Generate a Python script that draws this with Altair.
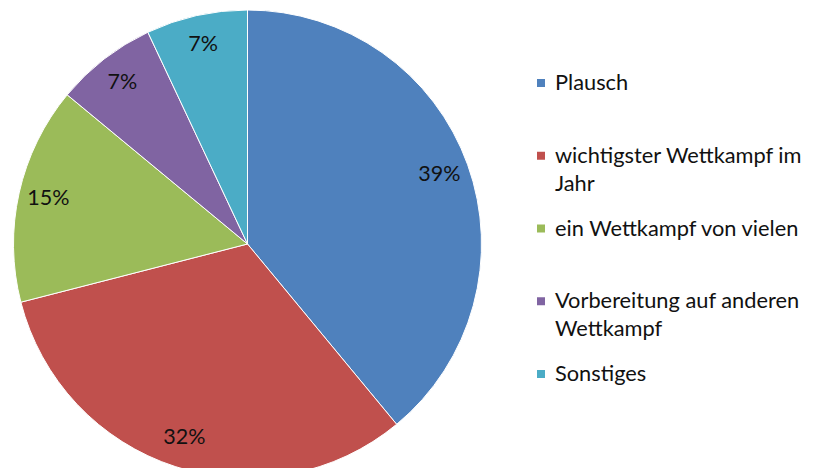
import altair as alt
import pandas as pd

categories = ["Plausch", "wichtigster Wettkampf im Jahr", "ein Wettkampf von vielen",
              "Vorbereitung auf anderen Wettkampf", "Sonstiges"]
legend_lines = ["Plausch", "wichtigster Wettkampf im\nJahr", "ein Wettkampf von vielen",
                "Vorbereitung auf anderen\nWettkampf", "Sonstiges"]
values = [39, 32, 15, 7, 7]
labels = ["39%", "32%", "15%", "7%", "7%"]
colors = ["#4F81BD", "#C0504D", "#9BBB59", "#8064A2", "#4BACC6"]

df = pd.DataFrame({
    "cat": categories,
    "legend": legend_lines,
    "value": values,
    "label": labels,
    "order": list(range(len(categories))),
})

FONT = "Lato"
cx, cy, R = 239.5, 236, 234

color = alt.Color("cat:N", scale=alt.Scale(domain=categories, range=colors), legend=None)

base = alt.Chart(df).encode(
    theta=alt.Theta("value:Q", stack=True),
    order=alt.Order("order:Q"),
)

pie = base.mark_arc(outerRadius=R, stroke="white", strokeWidth=1).encode(
    color=color, x=alt.value(cx), y=alt.value(cy)
)

pct = base.mark_text(radius=204, font=FONT, fontSize=21.5, color="#111111").encode(
    text="label:N", x=alt.value(cx), y=alt.value(cy)
)

ypos = alt.Y("cat:N", scale=alt.Scale(type="point", domain=categories, range=[75, 366], padding=0), axis=None)

sym = alt.Chart(df).mark_square(size=64, opacity=1).encode(
    x=alt.value(533), y=ypos, color=color
)

txt = alt.Chart(df).mark_text(
    align="left", baseline="middle", font=FONT, fontSize=21.8, color="#111111",
    lineBreak="\n", lineHeight=28
).encode(
    x=alt.value(547), y=ypos, text="legend:N"
)

chart = alt.layer(pie, pct, sym, txt).properties(
    width=798, height=460, padding=0, autosize=alt.AutoSizeParams(type="none")
).configure_view(stroke=None)

chart.save("out.html", embed_options={"renderer": "svg", "actions": False})
